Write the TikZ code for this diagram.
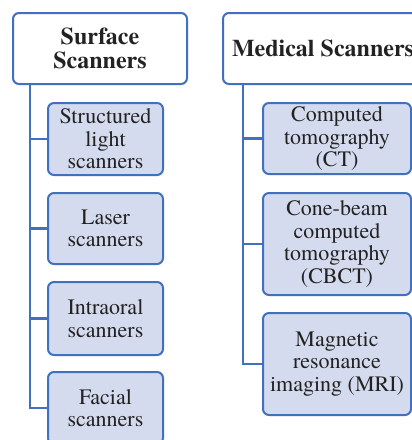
\documentclass[tikz,border=0pt]{standalone}
\usepackage{fontspec}
\setmainfont{texgyretermes}[Extension=.otf, UprightFont=*-regular, BoldFont=*-bold]
\definecolor{bordblue}{HTML}{4170BE}
\definecolor{boxfill}{HTML}{D5DBEE}
\definecolor{txt}{HTML}{222222}
\tikzset{
  head/.style={draw=bordblue, line width=2pt, fill=white, rounded corners=6pt,
    text=txt, font=\fontsize{24}{24}\selectfont\bfseries, align=center,
    inner sep=0pt, minimum height=71pt},
  child/.style={draw=bordblue, line width=2pt, fill=boxfill, rounded corners=6pt,
    text=txt, font=\fontsize{22}{22.5}\selectfont, align=center,
    inner sep=0pt},
  trunk/.style={draw=bordblue, line width=2.4pt}
}
\begin{document}
\begin{tikzpicture}[x=1pt,y=1pt]
\useasboundingbox (0,0) rectangle (412,-440);
% left column
\node[head, minimum width=174pt] (sh) at (100,-48.5) {Surface\\Scanners};
\node[child, minimum width=115pt, minimum height=72pt] (s1) at (105.5,-139) {Structured\\light\\scanners};
\node[child, minimum width=115pt, minimum height=71pt] (s2) at (105.5,-228.5) {Laser\\scanners};
\node[child, minimum width=115pt, minimum height=73pt] (s3) at (105.5,-318.5) {Intraoral\\scanners};
\node[child, minimum width=115pt, minimum height=72pt] (s4) at (105.5,-408) {Facial\\scanners};
\coordinate (sl) at (30,-48.5);
\draw[trunk] (sh.south -| sl) -- (sl |- s4.west) -- (s4.west);
\draw[trunk] (sl |- s1.west) -- (s1.west);
\draw[trunk] (sl |- s2.west) -- (s2.west);
\draw[trunk] (sl |- s3.west) -- (s3.west);
% right column
\node[head, minimum width=200pt] (mh) at (323,-48.5) {Medical Scanners};
\node[child, minimum width=148pt, minimum height=71pt] (m1) at (337,-138.5) {Computed\\tomography\\(CT)};
\node[child, minimum width=148pt, minimum height=102pt] (m2) at (337,-244) {Cone-beam\\computed\\tomography\\(CBCT)};
\node[child, minimum width=148pt, minimum height=102pt] (m3) at (337,-364) {Magnetic\\resonance\\imaging (MRI)};
\coordinate (ml) at (243,-48.5);
\draw[trunk] (mh.south -| ml) -- (ml |- m3.west) -- (m3.west);
\draw[trunk] (ml |- m1.west) -- (m1.west);
\draw[trunk] (ml |- m2.west) -- (m2.west);
\end{tikzpicture}
\end{document}
